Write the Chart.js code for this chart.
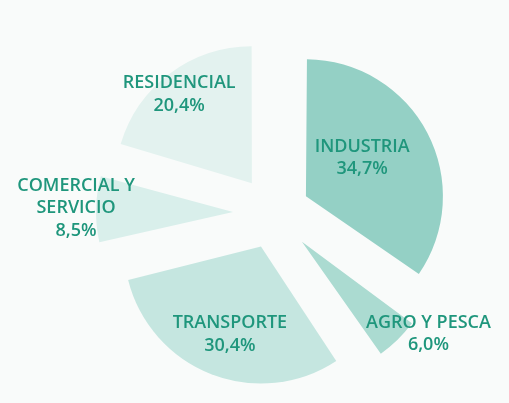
<!DOCTYPE html>
<html>
<head>
<meta charset="utf-8">
<script src="https://cdn.jsdelivr.net/npm/chart.js@4/dist/chart.umd.min.js"></script>
<style>
  html, body { margin: 0; padding: 0; background: #f9fbfa; }
  #wrap { width: 509px; height: 403px; }
</style>
</head>
<body>
<div id="wrap"><canvas id="pie" width="509" height="403"></canvas></div>
<script>
// Data (clockwise from 12 o'clock)
const sectors = [['INDUSTRIA'], ['AGRO Y PESCA'], ['TRANSPORTE'], ['COMERCIAL Y', 'SERVICIO'], ['RESIDENCIAL']];
const shares = [34.7, 6.0, 30.4, 8.5, 20.4];

// Style
const fills = ['#94d0c5', '#abdbd1', '#c5e6e0', '#d9efeb', '#e3f2ef'];
const explodePx = [36, 40, 36, 41, 37];
const pieRadius = 137;
// label anchor: [angle from top (deg, clockwise), distance from centre]
const labelAt = [[58, 104], [128, 196], [200, 129], [271.4, 198], [321.4, 152]];
const textColor = '#1f967c';

// Chart.js shifts an arc by offset/4 and also grows its radius by offset/4 * (1 - sin(sweep))
const total = shares.reduce((s, v) => s + v, 0);
const offsets = explodePx.map(p => p * 4);

const keepRadius = {
  id: 'keepRadius',
  beforeDatasetsDraw(chart) {
    chart.getDatasetMeta(0).data.forEach((arc, i) => {
      const sweep = shares[i] / total * 2 * Math.PI;
      const grow = explodePx[i] * (1 - Math.sin(Math.min(Math.PI, sweep)));
      arc.outerRadius = pieRadius - grow;
    });
  }
};

const pieLabels = {
  id: 'pieLabels',
  afterDatasetsDraw(chart) {
    const { ctx } = chart;
    const arcs = chart.getDatasetMeta(0).data;
    ctx.save();
    ctx.fillStyle = textColor;
    ctx.font = '600 18px "Open Sans"';
    ctx.textAlign = 'center';
    ctx.textBaseline = 'middle';
    arcs.forEach((arc, i) => {
      const a = labelAt[i][0] * Math.PI / 180;
      const cx = arc.x + Math.sin(a) * labelAt[i][1];
      const cy = arc.y - Math.cos(a) * labelAt[i][1];
      const lines = sectors[i].concat(shares[i].toFixed(1).replace('.', ',') + '%');
      const step = 22.5;
      lines.forEach((t, k) => {
        ctx.fillText(t, cx, cy + (k - (lines.length - 1) / 2) * step);
      });
    });
    ctx.restore();
  }
};

new Chart(document.getElementById('pie'), {
  type: 'pie',
  data: {
    labels: sectors.map(s => s.join(' ')),
    datasets: [{
      data: shares,
      backgroundColor: fills,
      borderWidth: 0,
      offset: offsets,
      hoverOffset: 0
    }]
  },
  options: {
    responsive: false,
    animation: false,
    radius: pieRadius,
    layout: { padding: { left: 39, right: 0, top: 23, bottom: 0 } },
    plugins: { legend: { display: false }, tooltip: { enabled: false } }
  },
  plugins: [keepRadius, pieLabels]
});
</script>
</body>
</html>
